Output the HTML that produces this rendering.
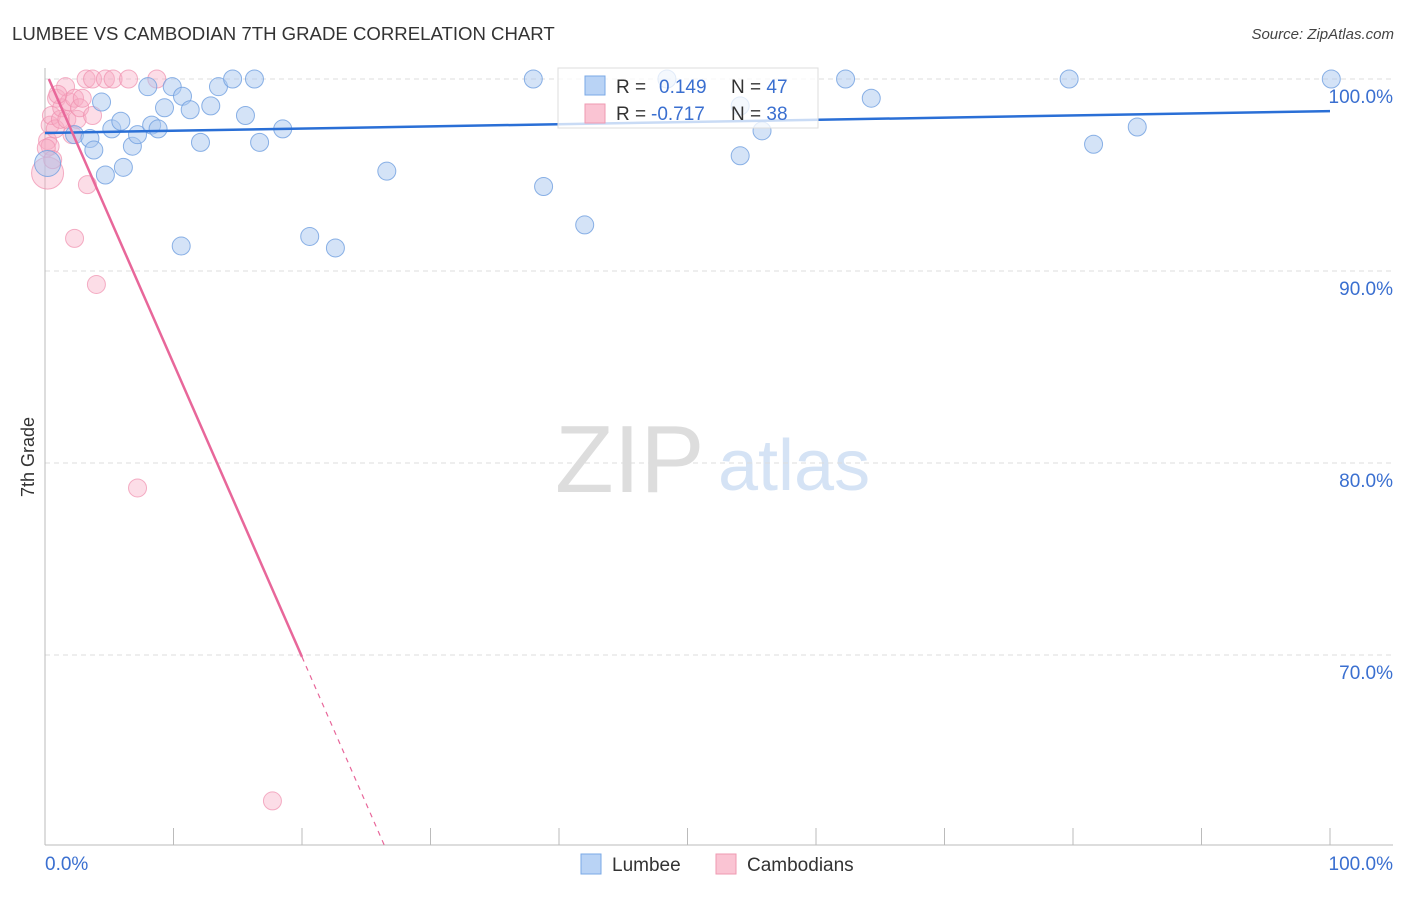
<!DOCTYPE html>
<html><head><meta charset="utf-8"><style>
body{margin:0;background:#fff;font-family:"Liberation Sans",sans-serif;}
svg text{font-family:"Liberation Sans",sans-serif;}
</style></head><body>
<svg id="c" width="1406" height="892">
<text x="12" y="40" font-size="18.6" fill="#333">LUMBEE VS CAMBODIAN 7TH GRADE CORRELATION CHART</text>
<text x="1394" y="39" font-size="15" fill="#444" font-style="italic" text-anchor="end">Source: ZipAtlas.com</text>
<text x="34" y="457" font-size="18" fill="#333" transform="rotate(-90 34 457)" text-anchor="middle">7th Grade</text>
<text x="555" y="492" font-size="96" fill="#ddd" font-family="Liberation Serif">ZIP</text>
<text x="718" y="490" font-size="72" fill="#d5e3f5">atlas</text>
<g id="grid"></g><g id="pts"></g><g id="lines"></g>
<g>
<rect x="558" y="68" width="260" height="60" fill="#fff" fill-opacity="0.75" stroke="#ddd"/>
<rect x="585" y="76" width="20" height="19" fill="#b9d3f5" stroke="#7aa8e6"/>
<rect x="585" y="104" width="20" height="19" fill="#fac4d3" stroke="#ef9ab2"/>
<text x="616" y="93" font-size="19" fill="#333">R = <tspan x="659" fill="#3a6fd0">0.149</tspan><tspan x="731" fill="#333">N = </tspan><tspan fill="#3a6fd0">47</tspan></text>
<text x="616" y="120" font-size="19" fill="#333">R = <tspan x="651" fill="#3a6fd0">-0.717</tspan><tspan x="731" fill="#333">N = </tspan><tspan fill="#3a6fd0">38</tspan></text>
</g>
<g>
<rect x="581" y="854" width="20" height="20" fill="#b9d3f5" stroke="#7aa8e6"/>
<text x="612" y="871" font-size="19" fill="#333">Lumbee</text>
<rect x="716" y="854" width="20" height="20" fill="#fac4d3" stroke="#ef9ab2"/>
<text x="747" y="871" font-size="19" fill="#333">Cambodians</text>
</g>
<text x="45" y="870" font-size="19" fill="#3a6fd0">0.0%</text>
<text x="1393" y="870" font-size="19" fill="#3a6fd0" text-anchor="end">100.0%</text>
</svg>
<script>
const yTicks=[100,90,80,70];
const yTickLabels=["100.0%","90.0%","80.0%","70.0%"];
const xTicks=[0,10,20,30,40,50,60,70,80,90,100];
const lumbeeX=[0.2,2.3,3.5,3.8,4.4,4.7,5.2,5.9,6.1,6.8,7.2,8.0,8.3,8.8,9.3,9.9,10.6,10.7,11.3,12.1,12.9,13.5,14.6,15.6,16.3,16.7,18.5,20.6,22.6,26.6,38.0,38.8,42.0,48.4,54.1,55.8,62.3,64.3,79.7,81.6,85.0,100.1,54.1];
const lumbeeY=[95.6,97.1,96.9,96.3,98.8,95.0,97.4,97.8,95.4,96.5,97.1,99.6,97.6,97.4,98.5,99.6,91.3,99.1,98.4,96.7,98.6,99.6,100,98.1,100,96.7,97.4,91.8,91.2,95.2,100,94.4,92.4,100,96.0,97.3,100,99.0,100,96.6,97.5,100,98.6];
const lumbeeR=[13,9,9,9,9,9,9,9,9,9,9,9,9,9,9,9,9,9,9,9,9,9,9,9,9,9,9,9,9,9,9,9,9,9,9,9,9,9,9,9,9,9,9];
const cambX=[0.2,0.2,0.4,0.5,0.8,0.9,1.2,1.3,1.6,1.7,1.9,2.1,2.3,2.5,2.7,2.9,3.2,3.3,3.7,3.7,4.7,5.3,6.5,8.7,2.3,4.0,7.2,17.7,0.4,1.0,0.1,0.6];
const cambY=[95.1,96.8,97.6,98.1,97.4,99.0,97.9,98.5,99.6,97.9,98.8,97.1,99.0,97.9,98.5,99.0,100,94.5,100,98.1,100,100,100,100,91.7,89.3,78.7,62.4,96.5,99.2,96.4,95.8];
const cambR=[16,9,9,9,9,9,9,9,9,9,9,9,9,9,9,9,9,9,9,9,9,9,9,9,9,9,9,9,9,9,9,9];
const blueTrend=[[0,97.19],[100,98.33]];
const pinkTrend=[[0.3,100],[20,69.9],[26.4,60.1]];
const X=v=>45+v*12.85, Y=v=>79+(100-v)*19.2;
const NS="http://www.w3.org/2000/svg";
function mk(t,a,p){const e=document.createElementNS(NS,t);for(const k in a)e.setAttribute(k,a[k]);p.appendChild(e);return e;}
const g=document.getElementById('grid');
yTicks.forEach((t,i)=>{
 const l=mk('line',{x1:45,x2:1393,y1:Y(t),y2:Y(t),stroke:'#ddd','stroke-dasharray':'5,4'},g);
 
 
 const tx=mk('text',{x:1393,y:Y(t)+24,'font-size':19,fill:'#3a6fd0','text-anchor':'end'},g);
 tx.textContent=yTickLabels[i];
 
 
});
mk('line',{x1:45,x2:45,y1:68,y2:845,stroke:'#bbb'},g);
mk('line',{x1:45,x2:1393,y1:845,y2:845,stroke:'#bbb'},g);
xTicks.forEach(t=>{
 const l=mk('line',{x1:X(t),x2:X(t),y1:828,y2:845,stroke:'#bbb'},g);
 
 
});
const p=document.getElementById('pts');
cambX.forEach((x,i)=>{
 const c=mk('circle',{cx:X(x),cy:Y(cambY[i]),r:cambR[i],fill:'#f7aac2','fill-opacity':0.4,stroke:'#ef8fae','stroke-opacity':0.7},p);
 
 
});
lumbeeX.forEach((x,i)=>{
 const c=mk('circle',{cx:X(x),cy:Y(lumbeeY[i]),r:lumbeeR[i],fill:'#a9c8f0','fill-opacity':0.5,stroke:'#6f9fe0','stroke-opacity':0.8},p);
 
 
});
const L=document.getElementById('lines');
const b=mk('line',{x1:X(blueTrend[0][0]),y1:Y(blueTrend[0][1]),x2:X(blueTrend[1][0]),y2:Y(blueTrend[1][1]),stroke:'#2a6fd6','stroke-width':2.5},L);


const pk=mk('line',{x1:X(pinkTrend[0][0]),y1:Y(pinkTrend[0][1]),x2:X(pinkTrend[1][0]),y2:Y(pinkTrend[1][1]),stroke:'#e8679a','stroke-width':2.5},L);


const pd=mk('line',{x1:X(pinkTrend[1][0]),y1:Y(pinkTrend[1][1]),x2:X(pinkTrend[2][0]),y2:Y(pinkTrend[2][1]),stroke:'#e8679a','stroke-width':1.2,'stroke-dasharray':'5,5'},L);


</script>
</body></html>
